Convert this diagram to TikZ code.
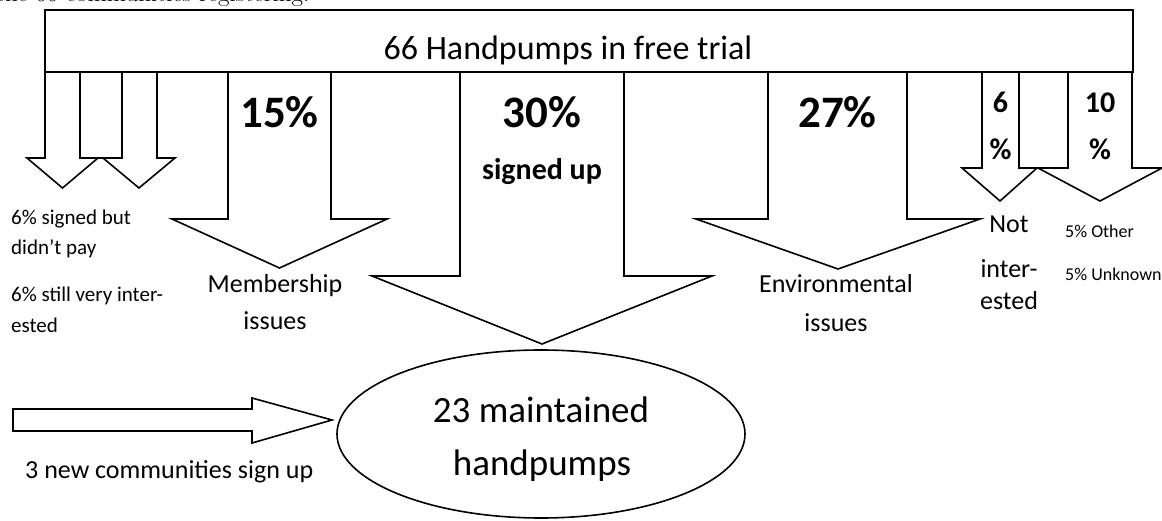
\documentclass[tikz,border=0pt]{standalone}
\usepackage{fontspec}
\setmainfont{Carlito}
\newfontfamily\docfont{Latin Modern Roman}
\begin{document}
\begin{tikzpicture}[x=1pt,y=-1pt,
  blk/.style={draw=black,line width=1.6pt,fill=white,line join=miter},
  lbl/.style={inner sep=0pt,anchor=base},
  lblw/.style={inner sep=0pt,anchor=base west},
  big/.style={font=\fontsize{45}{50}\selectfont\bfseries},
  mid/.style={font=\fontsize{30}{36}\selectfont\bfseries},
  reg/.style={font=\fontsize{26}{30}\selectfont},
  small/.style={font=\fontsize{21}{25}\selectfont},
  tiny/.style={font=\fontsize{18}{22}\selectfont}]
\useasboundingbox (0,0) rectangle (1162,521);
\fill[white] (0,0) rectangle (1162,521);
% cut-off line of surrounding document
\node[lblw,font=\docfont\fontsize{25}{30}\selectfont] (doc) at (-4,2) {the 66 communities registering.};
% top bar
\draw[blk] (45,10) rectangle (1133,72);
\node[lbl,font=\fontsize{34}{40}\selectfont] (title) at (568,60) {66 Handpumps in free trial};
% left pair of arrows
\draw[blk] (80,72) rectangle (122,158);
\draw[blk] (45,72) -- (45,158) -- (27,158) -- (62.5,188) -- (98,158) -- (80,158) -- (80,72) -- cycle;
\draw[blk] (122,72) -- (122,158) -- (103,158) -- (139,188) -- (175,158) -- (157,158) -- (157,72) -- cycle;
% 15%
\draw[blk] (228,72) -- (228,219) -- (172,219) -- (279.5,268) -- (387,219) -- (331,219) -- (331,72) -- cycle;
% 30%
\draw[blk] (460,72) -- (460,276) -- (372,276) -- (542,344) -- (712,276) -- (624,276) -- (624,72) -- cycle;
% 27%
\draw[blk] (768,72) -- (768,219) -- (696,219) -- (838,269) -- (980,219) -- (907,219) -- (907,72) -- cycle;
% right pair
\draw[blk] (1019,72) rectangle (1068,168);
\draw[blk] (982,72) -- (982,168) -- (962,168) -- (1000,201) -- (1037,168) -- (1019,168) -- (1019,72) -- cycle;
\draw[blk] (1068,72) -- (1068,168) -- (1038,168) -- (1100,201) -- (1162,168) -- (1132,168) -- (1132,72) -- cycle;
% ellipse
\draw[blk] (541,434) ellipse [x radius=204, y radius=84];
% new communities arrow
\draw[blk] (13,409) -- (252,409) -- (252,398) -- (332,420) -- (252,443) -- (252,431) -- (13,431) -- cycle;
% labels
\node[lbl,big] (p15) at (279.5,128) {15\%};
\node[lbl,big] (p30) at (542,128) {30\%};
\node[lbl,mid] (su) at (542,180) {signed up};
\node[lbl,big] (p27) at (837.5,128) {27\%};
\node[lbl,mid] (p6a) at (1000.5,113) {6};
\node[lbl,mid] (p6b) at (1000.5,160) {\%};
\node[lbl,mid] (p10a) at (1100,113) {10};
\node[lbl,mid] (p10b) at (1100,160) {\%};
\node[lbl,reg] (mem1) at (275,293) {Membership};
\node[lbl,reg] (mem2) at (275,330) {issues};
\node[lbl,reg] (env1) at (836,293) {Environmental};
\node[lbl,reg] (env2) at (836,332) {issues};
\node[lbl,reg] (ni1) at (1009,233) {Not};
\node[lbl,reg] (ni2) at (1009,278) {inter-};
\node[lbl,reg] (ni3) at (1009,310) {ested};
\node[lblw,tiny] (o1) at (1065,238) {5\% Other};
\node[lblw,tiny] (o2) at (1065,281) {5\% Unknown};
\node[lblw,small] (l1) at (11,225) {6\% signed but};
\node[lblw,small] (l2) at (11,255) {didn’t pay};
\node[lblw,small] (l3) at (11,302) {6\% still very inter-};
\node[lblw,small] (l4) at (11,333) {ested};
\node[lblw,reg] (nc) at (25,478) {3 new communities sign up};
\node[lbl,font=\fontsize{37}{44}\selectfont] (m1) at (541,422) {23 maintained};
\node[lbl,font=\fontsize{37}{44}\selectfont] (m2) at (542,475) {handpumps};
\end{tikzpicture}
\end{document}
